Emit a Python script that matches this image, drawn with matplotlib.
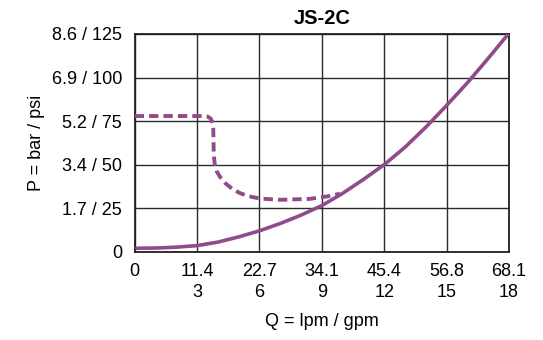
import matplotlib
matplotlib.use("Agg")
import matplotlib.pyplot as plt

plt.rcParams['font.family'] = ['Liberation Sans', 'DejaVu Sans']

title = "JS-2C"
x_lpm_labels = ["0", "11.4", "22.7", "34.1", "45.4", "56.8", "68.1"]
x_gpm_labels = ["", "3", "6", "9", "12", "15", "18"]
x_ticks = [0, 3, 6, 9, 12, 15, 18]
y_ticks = [0, 25, 50, 75, 100, 125]
y_labels = ["0", "1.7 / 25", "3.4 / 50", "5.2 / 75", "6.9 / 100", "8.6 / 125"]

# solid curve (gpm, psi)
solid_q = [0.1, 1, 2, 3, 4, 5, 6, 7, 8, 9, 10, 11, 12, 13, 14, 15, 16, 17, 18]
solid_p = [2, 2.1, 2.6, 3.5, 5.5, 8.5, 12, 16.2, 21, 26.5, 33.5, 41.5, 50, 60, 71.5, 84, 97, 111, 125.5]

# dashed curve (gpm, psi)
dash_q = [0, 1.0, 2.0, 3.0, 3.3, 3.5, 3.65, 3.75, 3.78, 3.8, 3.85, 3.95, 4.1, 4.35, 4.7, 5.07, 5.5, 6.03, 7.0, 8.4, 9.23, 9.87]
dash_p = [77.9, 77.9, 77.9, 77.9, 77.9, 77.6, 76.5, 74, 70, 56, 50, 46, 43, 39.4, 36, 33.6, 31.8, 30.5, 29.8, 30.3, 31.7, 33.3]

color = "#8f4b8b"

fig = plt.figure(figsize=(5.43, 3.40), dpi=100)
ax = fig.add_axes([134.7/543, 1-251.7/340, (509-134.7)/543, (251.7-34)/340])

ax.plot(solid_q, solid_p, color=color, lw=2.6, solid_capstyle='round', solid_joinstyle='round', zorder=3)
ax.plot(dash_q, dash_p, color=color, lw=2.8, dashes=(2.4, 1.3), dash_joinstyle='round', zorder=3)

ax.set_xlim(0, 18)
ax.set_ylim(0, 125)
ax.set_xticks(x_ticks)
ax.set_xticklabels(x_lpm_labels, fontsize=13)
ax.set_yticks(y_ticks)
ax.set_yticklabels(y_labels, fontsize=13)
ax.tick_params(axis='y', length=0, pad=9)
ax.tick_params(axis='x', length=0, pad=8)
ax.grid(True, color="#2e2a29", lw=1.0)
for s in ax.spines.values():
    s.set_linewidth(1.3)
    s.set_color("#231f20")

tr = ax.get_xaxis_transform()
for q, lab in zip(x_ticks, x_gpm_labels):
    if lab:
        ax.text(q, -41/217.7, lab, transform=tr, ha='center', va='center', fontsize=13)

ax.set_xlabel("Q = lpm / gpm", fontsize=13, labelpad=24)
ax.set_ylabel("P = bar / psi", fontsize=13, labelpad=5)
ax.set_title(title, fontsize=14.5, fontweight='bold', pad=7)

fig.savefig("out.png", dpi=100)
